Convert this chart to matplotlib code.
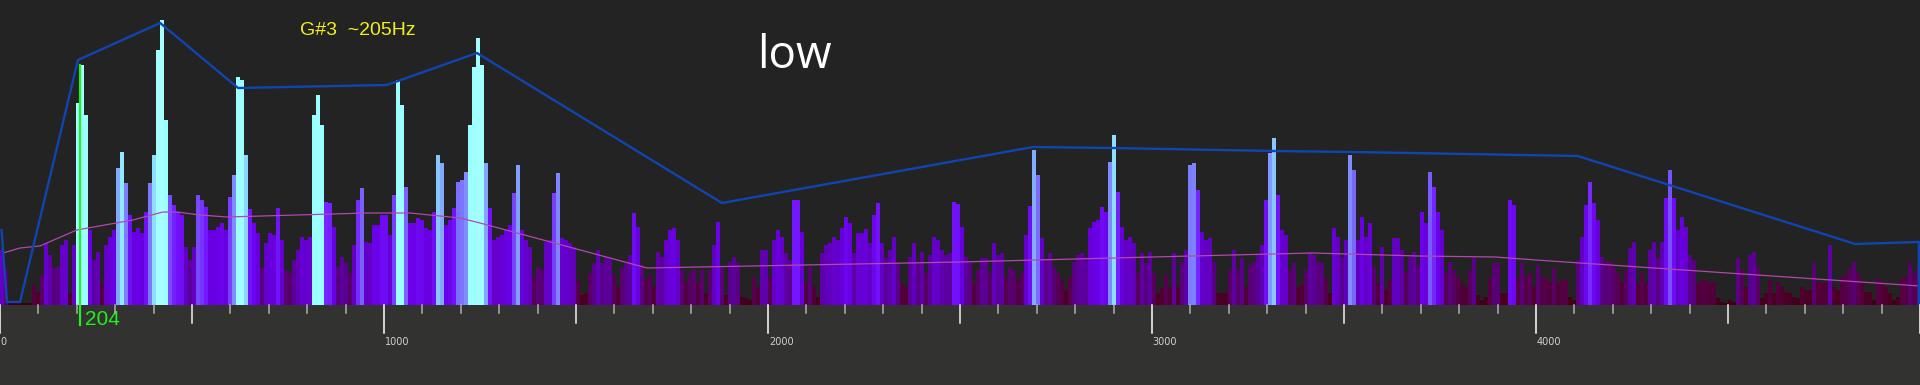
import numpy as np
import matplotlib
matplotlib.use("Agg")
import matplotlib.pyplot as plt
from matplotlib.colors import LinearSegmentedColormap

# ---------------- data ----------------
# spectrum magnitudes (bar heights), one value per ~10.4 Hz bin, split per kHz band
mag_0k = [55, 35, 2, 2, 2, 2, 2, 2, 20, 13, 30, 62, 50, 37, 38, 60, 65, 12, 60, 202, 240, 190, 75, 45,
          53, 20, 60, 68, 75, 137, 153, 122, 90, 73, 77, 72, 93, 122, 150, 255, 285, 185, 110, 100, 93, 90, 58, 45,
          58, 110, 105, 98, 75, 75, 78, 82, 75, 108, 130, 228, 225, 150, 96, 82, 72, 37, 62, 72, 70, 97, 65, 35,
          32, 45, 55, 68, 65, 68, 190, 210, 180, 103, 102, 78, 38, 48, 42, 32, 60, 105, 117, 63, 62, 80, 80, 90]
mag_1k = [90, 70, 110, 225, 200, 118, 82, 82, 87, 85, 77, 75, 93, 150, 142, 80, 85, 97, 123, 125, 133, 180, 238, 267,
          240, 142, 97, 65, 68, 70, 75, 80, 112, 140, 75, 65, 58, 28, 38, 35, 63, 65, 112, 132, 67, 65, 62, 58,
          25, 10, 12, 32, 42, 55, 42, 47, 47, 30, 18, 37, 42, 50, 92, 78, 40, 25, 30, 18, 53, 48, 65, 75,
          77, 65, 35, 23, 32, 35, 22, 35, 12, 35, 60, 83, 37, 10, 43, 48, 42, 8, 7, 5, 28, 18, 55, 55]
mag_2k = [28, 65, 75, 68, 52, 45, 105, 105, 73, 22, 38, 18, 8, 52, 60, 62, 68, 65, 77, 88, 82, 52, 72, 72,
          76, 62, 90, 102, 62, 47, 55, 68, 42, 22, 18, 48, 62, 43, 53, 32, 50, 68, 65, 55, 50, 52, 103, 101,
          78, 48, 43, 22, 35, 47, 47, 32, 62, 50, 52, 28, 38, 35, 25, 32, 70, 99, 155, 130, 67, 45, 52, 38,
          32, 25, 15, 28, 43, 50, 52, 48, 77, 83, 85, 98, 93, 143, 170, 113, 78, 65, 68, 62, 32, 52, 42, 53]
mag_3k = [32, 12, 17, 30, 18, 52, 18, 43, 55, 140, 142, 115, 73, 65, 67, 43, 12, 12, 12, 35, 55, 35, 47, 18,
          40, 43, 50, 60, 105, 152, 167, 110, 75, 70, 35, 42, 18, 20, 35, 52, 50, 43, 42, 27, 12, 77, 68, 48,
          65, 150, 135, 65, 88, 68, 82, 38, 22, 58, 15, 25, 67, 67, 55, 33, 48, 53, 40, 93, 82, 133, 118, 93,
          75, 32, 43, 35, 28, 22, 18, 35, 47, 10, 5, 8, 27, 42, 42, 12, 12, 105, 100, 27, 42, 28, 32, 18]
mag_4k = [40, 28, 28, 23, 37, 22, 25, 25, 8, 5, 45, 68, 100, 123, 102, 85, 48, 43, 43, 38, 32, 23, 35, 57,
          63, 22, 32, 22, 55, 63, 47, 63, 107, 135, 107, 75, 88, 78, 50, 45, 22, 25, 25, 22, 23, 7, 3, 2,
          5, 3, 47, 35, 18, 50, 53, 38, 7, 12, 25, 12, 23, 18, 13, 12, 8, 7, 18, 15, 15, 42, 23, 22,
          22, 60, 18, 15, 28, 30, 37, 43, 32, 22, 13, 13, 5, 27, 23, 18, 12, 5, 8, 27, 28, 42, 32, 37]

# peak envelope (blue)
env_hz = [4, 18, 52, 203, 417, 620, 1007, 1242, 1880, 2690, 2898, 3315, 3523, 4109, 4831, 4997, 4997]
env_h = [75, 3, 3, 245, 282, 217, 220, 252, 102, 158, 157, 154, 153, 149, 61, 63, 0]

# running mean (pink)
mean_hz = [8, 52, 104, 200, 346, 424, 461, 521, 591, 956, 1068, 1198, 1250, 1685, 2500, 3000,
           3417, 3695, 3893, 4000, 5000]
mean_h = [52, 57, 59, 75, 85, 93, 93, 90, 88, 92, 92, 87, 82, 37, 43, 48, 52, 49, 48, 45, 19]

pitch_hz = 204
pitch_label = "204"
note_label = "G#3  ~205Hz"
range_label = "low"
tick_hz = list(range(0, 5001, 100))
tick_labels = {0: "0", 1000: "1000", 2000: "2000", 3000: "3000", 4000: "4000"}

# ---------------- figure ----------------
fig = plt.figure(figsize=(19.2, 3.85), dpi=100)
fig.patch.set_facecolor('#323331')
ax = fig.add_axes([0, 80 / 385, 1, 305 / 385])
ax.set_facecolor('#222322')
ax.set_xlim(0, 5000)
ax.set_ylim(0, 305)
for s in ax.spines.values():
    s.set_visible(False)
ax.set_xticks([])
ax.set_yticks([])

mags = np.array(mag_0k + mag_1k + mag_2k + mag_3k + mag_4k, dtype=float)
nb = len(mags)
bin_w = 5000.0 / nb
freqs = np.arange(nb) * bin_w

stops = [(0, '#3a0012'), (12, '#4e0028'), (25, '#570050'), (40, '#5a0090'), (55, '#6200c0'),
         (75, '#6a00e8'), (95, '#7414ff'), (115, '#7a6cff'), (135, '#82a8ff'), (150, '#8ee8ff'),
         (165, '#98ffff'), (290, '#a8ffff')]
cmap = LinearSegmentedColormap.from_list('spec', [(h / 290.0, c) for h, c in stops])
h_eff = mags * (1 - 0.22 * freqs / 5000.0)
colors = cmap(np.clip(h_eff / 290.0, 0, 1))

ax.bar(freqs, mags, width=bin_w, align='edge', color=colors, linewidth=0,
       antialiased=False, zorder=1)

ax.plot(mean_hz, mean_h, color='#b048b0', lw=0.9, zorder=2)
ax.plot(env_hz, env_h, color='#1045b0', lw=1.7, zorder=3, solid_joinstyle='miter')

# pitch marker
ax.plot([pitch_hz + 5, pitch_hz + 5], [240, -20], color='#22ee22', lw=1.6, zorder=4, clip_on=False)
ax.text(pitch_hz + 17, -20, pitch_label, color='#22ee22', fontsize=15,
        family='Liberation Sans', ha='left', va='baseline', clip_on=False)

# ticks
for f in tick_hz:
    if f % 1000 == 0:
        ln, col = 28, '#ffffff'
    elif f % 500 == 0:
        ln, col = 18, '#f0f0f0'
    else:
        ln, col = 8, '#b0b0b0'
    ax.plot([f, f], [0, -ln], color=col, lw=1.1, clip_on=False, zorder=5)
    if f in tick_labels:
        ax.text(f + 2, -40, tick_labels[f], color='#d0d0d0', fontsize=7,
                family='DejaVu Sans', ha='left', va='baseline', clip_on=False)

# labels
fig.text(300 / 1920, 1 - 35 / 385, note_label, color='#f0f020', fontsize=14,
         family='Liberation Sans', ha='left', va='baseline')
fig.text(757 / 1920, 1 - 68 / 385, range_label, color='#ffffff', fontsize=33,
         family='Open Sans', ha='left', va='baseline')

fig.savefig('out.png', dpi=100, facecolor=fig.get_facecolor())
